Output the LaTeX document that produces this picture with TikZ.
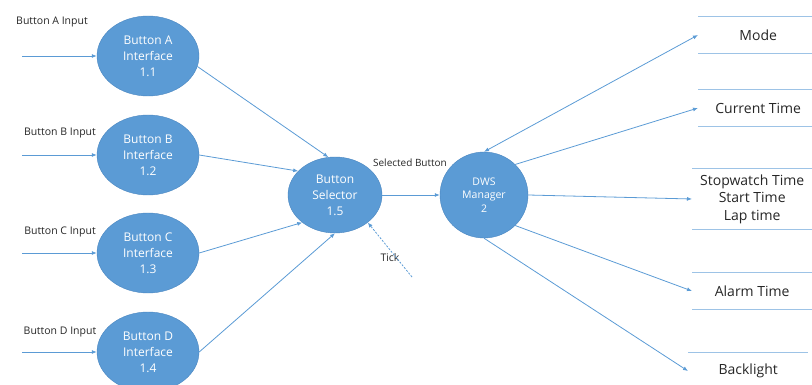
\documentclass[tikz,border=0pt]{standalone}
\usepackage{fontspec}
\setmainfont{Open Sans}
\usetikzlibrary{shapes.geometric,arrows.meta,positioning}
\definecolor{ellblue}{HTML}{5B9BD5}
\definecolor{ellline}{HTML}{4A86C0}
\definecolor{storeline}{HTML}{9DC3E6}

\begin{document}
\begin{tikzpicture}[
    x=1pt, y=-1pt,
    proc/.style={ellipse, draw=ellline, fill=ellblue, text=white, minimum width=102pt, minimum height=80pt, inner sep=0pt, align=center, font=\fontsize{12}{16}\selectfont},
    store/.style={minimum width=120pt, minimum height=36pt, anchor=west, align=center, inner sep=0pt, text=black!85, font=\fontsize{14}{17.5}\selectfont},
    lbl/.style={font=\fontsize{10.5}{12}\selectfont, text=black!85},
    flow/.style={-{Latex[length=5pt,width=4pt]}, draw=ellblue, line width=0.8pt}
]
\useasboundingbox (0,0) rectangle (812,385);

% Button interfaces
\node[proc] (btnA) at (148,56) {Button A\\Interface\\1.1};
\node[proc] (btnB) at (148,155) {Button B\\Interface\\1.2};
\node[proc] (btnC) at (148,253) {Button C\\Interface\\1.3};
\node[proc] (btnD) at (148,352) {Button D\\Interface\\1.4};

% Selector and manager
\node[proc, minimum width=94pt, minimum height=76pt] (sel) at (335,195) {Button\\Selector\\1.5};
\node[proc, minimum width=88pt, minimum height=86pt, font=\fontsize{10.5}{13.5}\selectfont] (dws) at (484,195) {DWS\\Manager\\2};

% Data stores
\node[store] (mode) at (698,35) {Mode};
\node[store] (cur) at (698,108) {Current Time};
\node[store, minimum height=60pt] (sw) at (692,199) {Stopwatch Time\\Start Time\\Lap time};
\node[store] (alarm) at (692,291) {Alarm Time};
\node[store] (back) at (688,371) {Backlight};
\foreach \s in {mode,cur,sw,alarm,back}
    \draw[storeline, line width=0.8pt] (\s.north west) -- (\s.north east) (\s.south west) -- (\s.south east);

% Inputs
\coordinate (inA) at (22,56);
\coordinate (inB) at (22,155);
\coordinate (inC) at (22,253);
\coordinate (inD) at (22,352);
\coordinate (tick) at (412,277);
\node[lbl] (labA) at (52,22) {Button A Input};
\node[lbl] (labB) at (60,133) {Button B Input};
\node[lbl] (labC) at (60,232) {Button C Input};
\node[lbl] (labD) at (60,332) {Button D Input};
\node[lbl] (labTick) at (390,258) {Tick};
\node[lbl, font=\fontsize{10}{12}\selectfont] (labSel) at (410,163) {Selected Button};

% Arrows
\draw[flow] (inA) -- (btnA);
\draw[flow] (inB) -- (btnB);
\draw[flow] (inC) -- (btnC);
\draw[flow] (inD) -- (btnD);
\draw[flow] (btnA.-12) -- (sel.100);
\draw[flow] (btnB.east) -- (sel.147);
\draw[flow] (btnC.east) -- (sel.-140);
\draw[flow] (btnD.east) -- (sel.south);
\draw[flow, dash pattern=on 2pt off 1.5pt] (tick) -- (sel.-40);
\draw[flow] (sel.east) -- (dws.west);
\draw[flow, {Latex[length=5pt,width=4pt]}-{Latex[length=5pt,width=4pt]}] (dws.north) -- (mode.west);
\draw[flow] (dws.north east) -- (cur.west);
\draw[flow] (dws.east) -- (sw.west);
\draw[flow] (dws.south east) -- (alarm.west);
\draw[flow] (dws.south) -- (back.west);

\end{tikzpicture}
\end{document}
